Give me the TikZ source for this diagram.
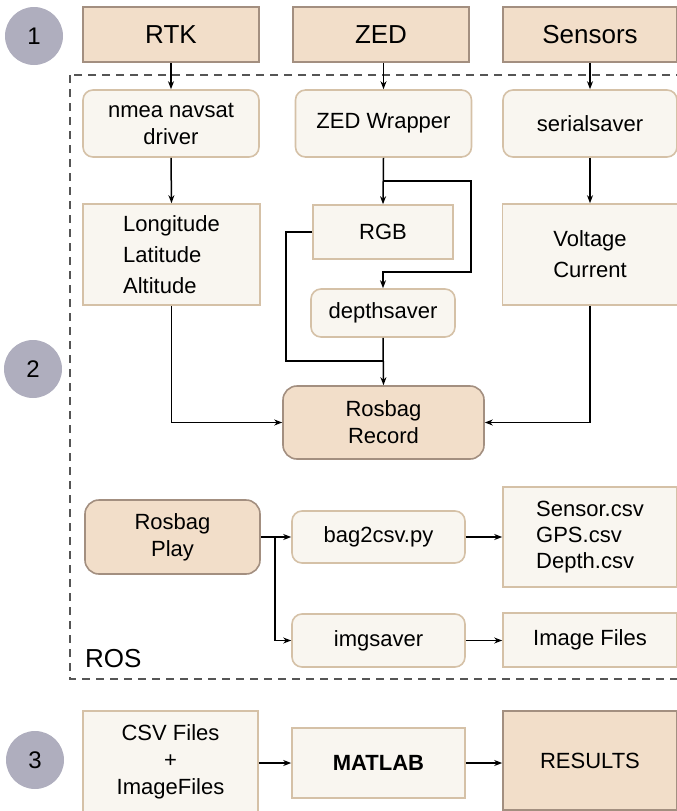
\documentclass[tikz,border=0pt]{standalone}
\usepackage{fontspec}
\setmainfont{Liberation Sans}
\usetikzlibrary{arrows.meta}
\definecolor{srcfill}{HTML}{F2DEC9}
\definecolor{srcline}{HTML}{A38F80}
\definecolor{stepfill}{HTML}{F9F6F0}
\definecolor{stepline}{HTML}{D5C1A7}
\definecolor{badge}{HTML}{AFAEBE}
\definecolor{rosline}{HTML}{555555}

\begin{document}
\begin{tikzpicture}[x=1pt,y=-1pt,
    >={Stealth[length=8pt,width=6pt]},
    every node/.style={font=\fontsize{22}{27}\selectfont,align=center,inner sep=0pt},
    srcbox/.style={draw=srcline,fill=srcfill,line width=1.6pt},
    stepbox/.style={draw=stepline,fill=stepfill,line width=1.6pt},
    roundbox/.style={stepbox,rounded corners=10pt},
    bigbox/.style={srcbox,rounded corners=14pt},
    badgenode/.style={circle,fill=badge,minimum size=58pt,font=\fontsize{24}{28}\selectfont},
    link/.style={line width=1.5pt,->}]
      \useasboundingbox (0,0) rectangle (677,811);
      \clip (0,0) rectangle (677,811);
      % ROS frame
      \draw[rosline,line width=1.5pt,dash pattern=on 8pt off 6pt] (70,75) rectangle (690,679);
      \node[anchor=base west,font=\fontsize{26}{30}\selectfont] (roslbl) at (85,667) {ROS};
      % step badges
      \node[badgenode] (b1) at (34,36) {1};
      \node[badgenode] (b2) at (33,369) {2};
      \node[badgenode] (b3) at (35,760) {3};
      % sources
      \node[srcbox,minimum width=176pt,minimum height=55pt,font=\fontsize{26}{30}\selectfont] (rtk) at (171,34.5) {RTK};
      \node[srcbox,minimum width=176pt,minimum height=55pt,font=\fontsize{26}{30}\selectfont] (zed) at (381,34.5) {ZED};
      \node[srcbox,minimum width=174pt,minimum height=55pt,font=\fontsize{26}{30}\selectfont] (sensors) at (590,34.5) {Sensors};
      % drivers
      \node[roundbox,minimum width=176pt,minimum height=67pt] (nmea) at (171,123.5) {nmea navsat\\driver};
      \node[roundbox,minimum width=176pt,minimum height=67pt] (zedwrap) at (383.5,123.5) {ZED Wrapper};
      \node[roundbox,minimum width=174pt,minimum height=67pt] (serial) at (590,123.5) {serialsaver};
      % topics
      \node[stepbox,minimum width=177pt,minimum height=101pt,align=left,font=\fontsize{22}{31}\selectfont] (gps) at (171.5,254.5) {Longitude\\Latitude\\Altitude};
      \node[stepbox,minimum width=140pt,minimum height=54pt] (rgb) at (383,232) {RGB};
      \node[roundbox,minimum width=144pt,minimum height=48pt] (depth) at (383,313) {depthsaver};
      \node[stepbox,minimum width=175pt,minimum height=101pt,font=\fontsize{22}{31}\selectfont] (power) at (590,254.5) {Voltage\\Current};
      \node[bigbox,minimum width=201pt,minimum height=73pt] (record) at (383.5,422.5) {Rosbag\\Record};
      % playback
      \node[bigbox,minimum width=175pt,minimum height=74pt] (play) at (172.5,537) {Rosbag\\Play};
      \node[roundbox,minimum width=173pt,minimum height=52pt] (bag) at (378.5,537) {bag2csv.py};
      \node[roundbox,minimum width=173pt,minimum height=53pt] (imgsave) at (378.5,640.5) {imgsaver};
      \node[stepbox,minimum width=174pt,minimum height=100pt,align=left,font=\fontsize{22}{26}\selectfont] (csvout) at (590,537) {Sensor.csv\\GPS.csv\\Depth.csv};
      \node[stepbox,minimum width=174pt,minimum height=54pt] (imgout) at (590,640) {Image Files};
      % analysis
      \node[stepbox,minimum width=175pt,minimum height=102pt] (files) at (170.5,762) {CSV Files\\+\\ImageFiles};
      \node[stepbox,minimum width=173pt,minimum height=70pt,font=\fontsize{22}{27}\selectfont\bfseries] (matlab) at (378.5,763) {MATLAB};
      \node[srcbox,minimum width=174pt,minimum height=99pt] (results) at (590,760.5) {RESULTS};
      % connectors
      \draw[link] (rtk.south) -- (nmea.north);
      \draw[link] (zedwrap.north |- zed.south) -- (zedwrap.north);
      \draw[link] (serial.north |- sensors.south) -- (serial.north);
      \draw[link] (nmea.south) -- (gps.north);
      \draw[link] (zedwrap.south) -- (rgb.north);
      \coordinate (zsplit) at (383,181);
      \coordinate (zturn) at (471,272);
      \draw[link] (zsplit) -| (zturn) -| (depth.north);
      \coordinate (rturn) at (286,361);
      \coordinate (rjoin) at (depth.south |- rturn);
      \draw[line width=1.5pt] (rgb.west) -| (rturn) -- (rjoin);
      \draw[link] (serial.south) -- (power.north);
      \draw[link] (depth.south) -- (record.north);
      \draw[link] (gps.south) |- (record.west);
      \draw[link] (power.south) |- (record.east);
      \draw[link] (play.east) -- (bag.west);
      \coordinate (psplit) at (275,537);
      \draw[link] (psplit) |- (imgsave.west);
      \draw[link] (bag.east) -- (csvout.west |- bag.east);
      \draw[link] (imgsave.east) -- (imgout.west |- imgsave.east);
      \draw[link] (matlab.west -| files.east) -- (matlab.west);
      \draw[link] (matlab.east) -- (results.west |- matlab.east);
    \end{tikzpicture}
\end{document}
